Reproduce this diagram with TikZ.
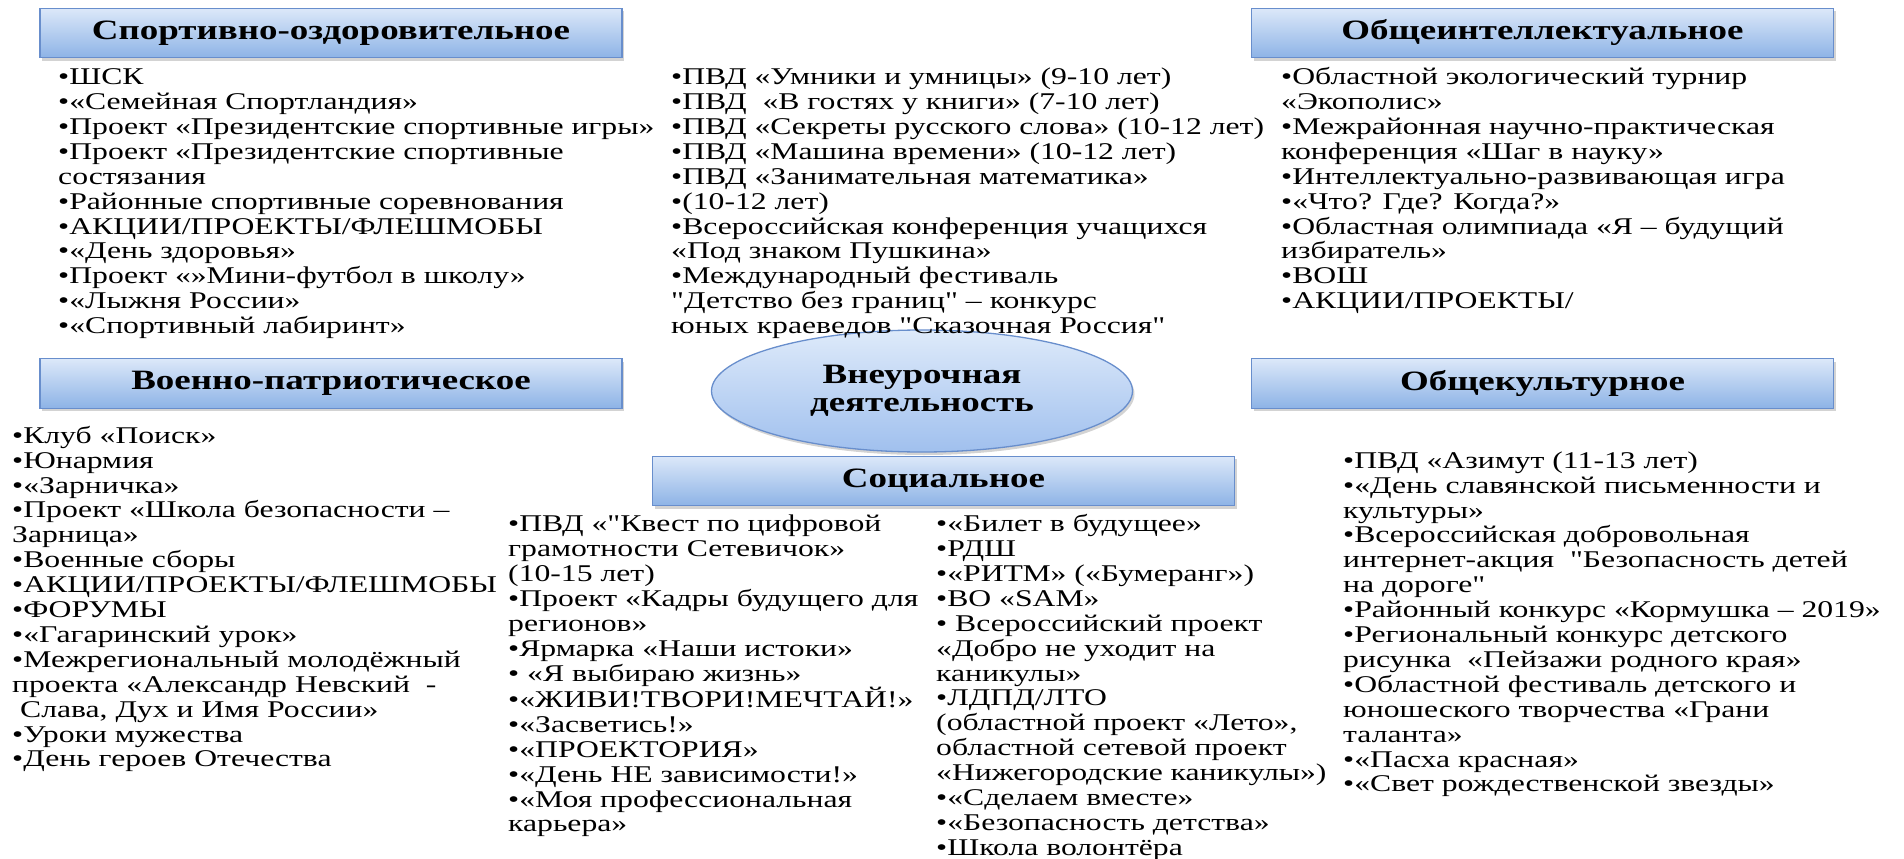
\documentclass[tikz,border=0pt]{standalone}
\usepackage{fontspec}
\setmainfont{Liberation Serif}[FakeStretch=1.32]
\newfontfamily\plainserif{Liberation Serif}[FakeStretch=1.32]
\usetikzlibrary{shapes.geometric,shadows}
\definecolor{boxtop}{RGB}{220,232,249}
\definecolor{boxbot}{RGB}{141,179,230}
\definecolor{boxline}{RGB}{104,142,204}
\definecolor{elltop}{RGB}{222,234,250}
\definecolor{ellbot}{RGB}{160,192,238}
\tikzset{
  headbox/.style={rectangle, draw=boxline, line width=1.3pt, top color=boxtop, bottom color=boxbot,
    minimum width=582pt, minimum height=49.5pt, inner sep=0pt,
    font=\plainserif\fontsize{28}{28}\selectfont\bfseries,
    drop shadow={opacity=0.35, shadow xshift=2pt, shadow yshift=-3pt}},
  centreell/.style={ellipse, draw=boxline, line width=1.3pt, top color=elltop, bottom color=ellbot,
    minimum width=421pt, minimum height=122pt, inner sep=0pt, align=center,
    font=\plainserif\fontsize{28}{28}\selectfont\bfseries,
    drop shadow={opacity=0.35, shadow xshift=2pt, shadow yshift=-3pt}},
  listcol/.style={anchor=north west, inner sep=0pt, align=left,
    font=\plainserif\fontsize{24}{24.9}\selectfont}
}
\begin{document}
\begin{tikzpicture}[x=1pt,y=-1pt]
\path[use as bounding box] (0,0) rectangle (1904,859);

\node[headbox] (h1) at (331,33) {Спортивно-оздоровительное};
\node[headbox] (h2) at (1542.5,33) {Общеинтеллектуальное};
\node[headbox] (h3) at (331,383.5) {Военно-патриотическое};
\node[headbox] (h4) at (1542.5,383.5) {Общекультурное};
\node[headbox] (h5) at (943.5,481) {Социальное};
\node[centreell] (core) at (922,391) {Внеурочная\\деятельность};

\node[listcol] (l1) at (58,67) {\strut•ШСК\\
•«Семейная Спортландия»\\
•Проект «Президентские спортивные игры»\\
•Проект «Президентские спортивные\\
состязания\\
•Районные спортивные соревнования\\
•АКЦИИ/ПРОЕКТЫ/ФЛЕШМОБЫ\\
•«День здоровья»\\
•Проект «»Мини-футбол в школу»\\
•«Лыжня России»\\
•«Спортивный лабиринт»};

\node[listcol] (l2) at (671,67) {\strut•ПВД «Умники и умницы» (9-10 лет)\\
•ПВД \ «В гостях у книги» (7-10 лет)\\
•ПВД «Секреты русского слова» (10-12 лет)\\
•ПВД «Машина времени» (10-12 лет)\\
•ПВД «Занимательная математика»\\
•(10-12 лет)\\
•Всероссийская конференция учащихся\\
«Под знаком Пушкина»\\
•Международный фестиваль\\
"Детство без границ" – конкурс\\
юных краеведов "Сказочная Россия"};

\node[listcol] (l3) at (1281,67) {\strut•Областной экологический турнир\\
«Экополис»\\
•Межрайонная научно-практическая\\
конференция «Шаг в науку»\\
•Интеллектуально-развивающая игра\\
•«Что? Где? Когда?»\\
•Областная олимпиада «Я – будущий\\
избиратель»\\
•ВОШ\\
•АКЦИИ/ПРОЕКТЫ/};

\node[listcol] (l4) at (12,425.6) {\strut•Клуб «Поиск»\\
•Юнармия\\
•«Зарничка»\\
•Проект «Школа безопасности –\\
Зарница»\\
•Военные сборы\\
•АКЦИИ/ПРОЕКТЫ/ФЛЕШМОБЫ\\
•ФОРУМЫ\\
•«Гагаринский урок»\\
•Межрегиональный молодёжный\\
проекта «Александр Невский \ -\\
\ Слава, Дух и Имя России»\\
•Уроки мужества\\
•День героев Отечества};

\node[listcol] (l5) at (508,514) {\strut•ПВД «"Квест по цифровой\\
грамотности Сетевичок»\\
(10-15 лет)\\
•Проект «Кадры будущего для\\
регионов»\\
•Ярмарка «Наши истоки»\\
• «Я выбираю жизнь»\\
•«ЖИВИ!ТВОРИ!МЕЧТАЙ!»\\
•«Засветись!»\\
•«ПРОЕКТОРИЯ»\\
•«День НЕ зависимости!»\\
•«Моя профессиональная\\
карьера»};

\node[listcol] (l6) at (936,514) {\strut•«Билет в будущее»\\
•РДШ\\
•«РИТМ» («Бумеранг»)\\
•ВО «SAM»\\
• Всероссийский проект\\
«Добро не уходит на\\
каникулы»\\
•ЛДПД/ЛТО\\
(областной проект «Лето»,\\
областной сетевой проект\\
«Нижегородские каникулы»)\\
•«Сделаем вместе»\\
•«Безопасность детства»\\
•Школа волонтёра};

\node[listcol] (l7) at (1343,450.6) {\strut•ПВД «Азимут (11-13 лет)\\
•«День славянской письменности и\\
культуры»\\
•Всероссийская добровольная\\
интернет-акция \ "Безопасность детей\\
на дороге"\\
•Районный конкурс «Кормушка – 2019»\\
•Региональный конкурс детского\\
рисунка \ «Пейзажи родного края»\\
•Областной фестиваль детского и\\
юношеского творчества «Грани\\
таланта»\\
•«Пасха красная»\\
•«Свет рождественской звезды»};
\end{tikzpicture}
\end{document}
